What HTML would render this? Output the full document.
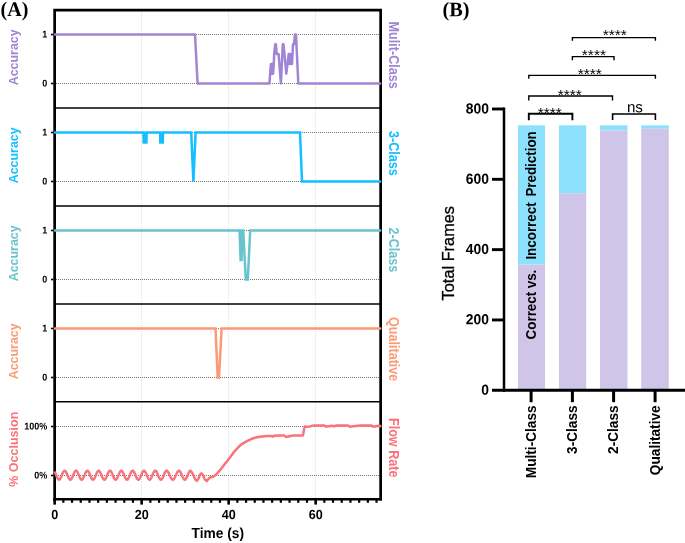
<!DOCTYPE html>
<html lang="en"><head><meta charset="utf-8"><title>Figure</title>
<style>html,body{margin:0;padding:0;background:#fff}svg{display:block}text{font-family:"Liberation Sans",Arial,sans-serif;fill:#000}.b{font-weight:bold}.tf{stroke:#000;stroke-width:0.3px}.ser{font-family:"Liberation Serif","Times New Roman",serif;font-weight:bold}</style></head><body>
<svg width="685" height="543" viewBox="0 0 685 543">
<rect width="685" height="543" fill="#fff"/>
<line x1="141.5" y1="11" x2="141.5" y2="498" stroke="#e0e0e0" stroke-width="1" stroke-dasharray="1 1"/>
<line x1="228.5" y1="11" x2="228.5" y2="498" stroke="#e0e0e0" stroke-width="1" stroke-dasharray="1 1"/>
<line x1="315.5" y1="11" x2="315.5" y2="498" stroke="#e0e0e0" stroke-width="1" stroke-dasharray="1 1"/>
<line x1="56" y1="34.5" x2="380" y2="34.5" stroke="#747474" stroke-width="1" stroke-dasharray="1 1"/>
<line x1="56" y1="83.5" x2="380" y2="83.5" stroke="#747474" stroke-width="1" stroke-dasharray="1 1"/>
<line x1="56" y1="132.5" x2="380" y2="132.5" stroke="#747474" stroke-width="1" stroke-dasharray="1 1"/>
<line x1="56" y1="181.5" x2="380" y2="181.5" stroke="#747474" stroke-width="1" stroke-dasharray="1 1"/>
<line x1="56" y1="230.5" x2="380" y2="230.5" stroke="#747474" stroke-width="1" stroke-dasharray="1 1"/>
<line x1="56" y1="279.5" x2="380" y2="279.5" stroke="#747474" stroke-width="1" stroke-dasharray="1 1"/>
<line x1="56" y1="328.5" x2="380" y2="328.5" stroke="#747474" stroke-width="1" stroke-dasharray="1 1"/>
<line x1="56" y1="377.5" x2="380" y2="377.5" stroke="#747474" stroke-width="1" stroke-dasharray="1 1"/>
<line x1="56" y1="426.5" x2="380" y2="426.5" stroke="#747474" stroke-width="1" stroke-dasharray="1 1"/>
<line x1="56" y1="475.5" x2="380" y2="475.5" stroke="#747474" stroke-width="1" stroke-dasharray="1 1"/>
<line x1="55" y1="108" x2="381" y2="108" stroke="#000" stroke-width="1.6"/>
<line x1="55" y1="206" x2="381" y2="206" stroke="#000" stroke-width="1.6"/>
<line x1="55" y1="304" x2="381" y2="304" stroke="#000" stroke-width="1.6"/>
<line x1="55" y1="401.7" x2="381" y2="401.7" stroke="#000" stroke-width="1.6"/>
<path d="M54.65,500.4 L54.65,10.05 L380.65,10.05 L380.65,500.4" fill="none" stroke="#000" stroke-width="2.7" stroke-linejoin="miter"/>
<line x1="53.3" y1="499.2" x2="382" y2="499.2" stroke="#000" stroke-width="2.5"/>
<path d="M55.0,34.5 L195.0,34.5 L197.6,83.5 L269.4,83.5 L270.2,73.7 L270.9,63.9 L271.7,73.7 L272.4,63.9 L273.1,73.7 L273.8,63.9 L274.2,54.1 L275.2,44.3 L275.9,44.3 L276.7,54.1 L278.6,54.1 L280.9,83.5 L282.8,44.3 L283.5,44.3 L286.3,73.7 L288.7,54.1 L289.4,63.9 L290.1,54.1 L290.8,63.9 L291.5,54.1 L292.0,63.9 L292.5,54.1 L293.0,44.3 L294.0,44.3 L295.0,34.5 L296.0,34.5 L298.3,83.5 L380.2,83.5" fill="none" stroke="#A085D4" stroke-width="2.5" stroke-linejoin="round" stroke-miterlimit="3" stroke-linecap="round"/>
<path d="M55.0,132.5 L143.6,132.5 L143.8,142.3 L146.2,142.3 L146.4,132.5 L160.2,132.5 L160.4,142.3 L162.8,142.3 L163.0,132.5 L191.2,132.5 L193.4,181.5 L195.6,132.5 L300.0,132.5 L302.0,181.5 L380.2,181.5" fill="none" stroke="#14BEFF" stroke-width="2.5" stroke-linejoin="miter" stroke-miterlimit="3" stroke-linecap="round"/>
<rect x="142.6" y="132.5" width="4.8" height="11" fill="#14BEFF"/>
<rect x="159.2" y="132.5" width="4.8" height="11" fill="#14BEFF"/>
<path d="M55.0,230.5 L239.6,230.5 L240.6,259.9 L241.6,259.9 L242.0,230.5 L243.2,230.5 L245.8,279.5 L247.8,279.5 L250.2,230.5 L380.2,230.5" fill="none" stroke="#69C3CD" stroke-width="2.5" stroke-linejoin="miter" stroke-miterlimit="3" stroke-linecap="round"/>
<path d="M55.0,328.5 L215.5,328.5 L217.7,377.5 L219.0,377.5 L221.6,328.5 L380.2,328.5" fill="none" stroke="#FA9B76" stroke-width="2.5" stroke-linejoin="miter" stroke-miterlimit="3" stroke-linecap="round"/>
<path d="M55.0,472.5 L55.5,473.6 L56.0,474.8 L56.5,476.0 L57.0,477.2 L57.5,478.2 L58.0,479.0 L58.5,479.5 L59.0,479.7 L59.5,479.5 L60.0,479.0 L60.5,478.2 L61.0,477.2 L61.5,476.0 L62.0,474.8 L62.5,473.6 L63.0,472.5 L63.5,471.6 L64.0,471.0 L64.5,470.7 L65.0,470.8 L65.5,471.2 L66.0,471.9 L66.5,472.8 L67.0,474.0 L67.5,475.2 L68.0,476.4 L68.5,477.6 L69.0,478.5 L69.5,479.2 L70.0,479.6 L70.5,479.7 L71.0,479.4 L71.5,478.8 L72.0,477.9 L72.5,476.8 L73.0,475.6 L73.5,474.4 L74.0,473.2 L74.5,472.2 L75.0,471.4 L75.5,470.9 L76.0,470.7 L76.5,470.9 L77.0,471.4 L77.5,472.2 L78.0,473.2 L78.5,474.4 L79.0,475.6 L79.5,476.8 L80.0,477.9 L80.5,478.8 L81.0,479.4 L81.5,479.7 L82.0,479.6 L82.5,479.2 L83.0,478.5 L83.5,477.5 L84.0,476.4 L84.5,475.2 L85.0,473.9 L85.5,472.8 L86.0,471.9 L86.5,471.2 L87.0,470.8 L87.5,470.7 L88.0,471.0 L88.5,471.6 L89.0,472.5 L89.5,473.6 L90.0,474.8 L90.5,476.1 L91.0,477.2 L91.5,478.3 L92.0,479.0 L92.5,479.5 L93.0,479.7 L93.5,479.5 L94.0,479.0 L94.5,478.2 L95.0,477.2 L95.5,476.0 L96.0,474.7 L96.5,473.5 L97.0,472.5 L97.5,471.6 L98.0,471.0 L98.5,470.7 L99.0,470.8 L99.5,471.2 L100.0,471.9 L100.5,472.9 L101.0,474.0 L101.5,475.3 L102.0,476.5 L102.5,477.6 L103.0,478.6 L103.5,479.3 L104.0,479.6 L104.5,479.7 L105.0,479.4 L105.5,478.8 L106.0,477.9 L106.5,476.8 L107.0,475.6 L107.5,474.3 L108.0,473.1 L108.5,472.1 L109.0,471.3 L109.5,470.9 L110.0,470.7 L110.5,470.9 L111.0,471.4 L111.5,472.2 L112.0,473.3 L112.5,474.4 L113.0,475.7 L113.5,476.9 L114.0,478.0 L114.5,478.8 L115.0,479.4 L115.5,479.7 L116.0,479.6 L116.5,479.2 L117.0,478.5 L117.5,477.5 L118.0,476.4 L118.5,475.1 L119.0,473.9 L119.5,472.8 L120.0,471.8 L120.5,471.1 L121.0,470.8 L121.5,470.7 L122.0,471.0 L122.5,471.7 L123.0,472.6 L123.5,473.7 L124.0,474.9 L124.5,476.1 L125.0,477.3 L125.5,478.3 L126.0,479.1 L126.5,479.6 L127.0,479.7 L127.5,479.5 L128.0,479.0 L128.5,478.2 L129.0,477.1 L129.5,475.9 L130.0,474.7 L130.5,473.5 L131.0,472.4 L131.5,471.5 L132.0,471.0 L132.5,470.7 L133.0,470.8 L133.5,471.2 L134.0,471.9 L134.5,472.9 L135.0,474.1 L135.5,475.3 L136.0,476.5 L136.5,477.7 L137.0,478.6 L137.5,479.3 L138.0,479.6 L138.5,479.7 L139.0,479.4 L139.5,478.7 L140.0,477.8 L140.5,476.7 L141.0,475.5 L141.5,474.3 L142.0,473.1 L142.5,472.1 L143.0,471.3 L143.5,470.8 L144.0,470.7 L144.5,470.9 L145.0,471.4 L145.5,472.3 L146.0,473.3 L146.5,474.5 L147.0,475.7 L147.5,476.9 L148.0,478.0 L148.5,478.9 L149.0,479.4 L149.5,479.7 L150.0,479.6 L150.5,479.2 L151.0,478.4 L151.5,477.4 L152.0,476.3 L152.5,475.1 L153.0,473.8 L153.5,472.7 L154.0,471.8 L154.5,471.1 L155.0,470.8 L155.5,470.7 L156.0,471.1 L156.5,471.7 L157.0,472.6 L157.5,473.7 L158.0,474.9 L158.5,476.2 L159.0,477.3 L159.5,478.3 L160.0,479.1 L160.5,479.6 L161.0,479.7 L161.5,479.5 L162.0,478.9 L162.5,478.1 L163.0,477.1 L163.5,475.9 L164.0,474.6 L164.5,473.4 L165.0,472.4 L165.5,471.5 L166.0,470.9 L166.5,470.7 L167.0,470.8 L167.5,471.2 L168.0,471.8 L168.5,472.6 L169.0,473.6 L169.5,474.7 L170.0,475.9 L170.5,477.0 L171.0,478.0 L171.5,478.8 L172.0,479.3 L172.5,479.6 L173.0,479.7 L173.5,479.4 L174.0,478.9 L174.5,478.1 L175.0,477.2 L175.5,476.1 L176.0,475.0 L176.5,473.9 L177.0,472.8 L177.5,471.9 L178.0,471.3 L178.5,470.8 L179.0,470.7 L179.5,470.9 L180.0,471.3 L180.5,472.1 L181.0,473.1 L181.5,474.2 L182.0,475.4 L182.5,476.6 L183.0,477.7 L183.5,478.6 L184.0,479.3 L184.5,479.6 L185.0,479.7 L185.5,479.4 L186.0,478.8 L186.5,477.9 L187.0,476.9 L187.5,475.7 L188.0,474.5 L188.5,473.3 L189.0,472.3 L189.5,471.5 L190.0,470.9 L190.5,470.7 L190.6,470.7 L192.6,473.5 L195.2,479.3 L196.8,480.8 L198.3,479.0 L200.1,474.5 L201.4,473.4 L202.8,474.8 L204.9,479.5 L206.8,481.0 L208.4,479.0 L210.4,477.2 L212.2,476.9 L214.0,476.3 L217.0,473.6 L220.0,470.2 L224.0,465.0 L228.0,460.0 L231.0,456.0 L234.0,452.0 L237.0,448.6 L240.0,445.6 L243.0,443.3 L246.0,441.6 L250.0,439.6 L254.0,438.0 L258.0,437.0 L262.0,436.4 L267.0,436.1 L272.0,436.0 L273.0,436.6 L274.0,435.8 L280.0,435.6 L284.5,435.6 L286.0,436.9 L287.5,436.8 L290.0,436.0 L294.0,435.6 L298.0,435.5 L303.0,435.4 L303.8,431.0 L304.6,426.6 L307.0,426.8 L310.0,426.4 L313.0,425.6 L318.0,425.4 L324.0,425.4 L326.0,426.6 L329.0,426.2 L332.0,425.8 L334.0,426.3 L336.0,425.6 L342.0,425.4 L348.0,425.4 L350.0,426.8 L353.0,426.2 L356.0,425.9 L360.0,425.6 L365.0,425.4 L371.0,425.4 L373.0,426.6 L375.0,426.4 L377.0,426.0 L379.0,425.7 L380.4,426.2" fill="none" stroke="#FA737A" stroke-width="2.5" stroke-linejoin="round" stroke-miterlimit="3" stroke-linecap="round"/>
<line x1="51" y1="34.5" x2="53.5" y2="34.5" stroke="#000" stroke-width="1.6"/>
<text class="b" transform="translate(47.3,37.6) rotate(0.03) scale(0.92,1)" font-size="9.8" text-anchor="end">1</text>
<line x1="51" y1="83.5" x2="53.5" y2="83.5" stroke="#000" stroke-width="1.6"/>
<text class="b" transform="translate(47.3,86.6) rotate(0.03) scale(0.92,1)" font-size="9.8" text-anchor="end">0</text>
<line x1="51" y1="132.5" x2="53.5" y2="132.5" stroke="#000" stroke-width="1.6"/>
<text class="b" transform="translate(47.3,135.6) rotate(0.03) scale(0.92,1)" font-size="9.8" text-anchor="end">1</text>
<line x1="51" y1="181.5" x2="53.5" y2="181.5" stroke="#000" stroke-width="1.6"/>
<text class="b" transform="translate(47.3,184.6) rotate(0.03) scale(0.92,1)" font-size="9.8" text-anchor="end">0</text>
<line x1="51" y1="230.5" x2="53.5" y2="230.5" stroke="#000" stroke-width="1.6"/>
<text class="b" transform="translate(47.3,233.6) rotate(0.03) scale(0.92,1)" font-size="9.8" text-anchor="end">1</text>
<line x1="51" y1="279.5" x2="53.5" y2="279.5" stroke="#000" stroke-width="1.6"/>
<text class="b" transform="translate(47.3,282.6) rotate(0.03) scale(0.92,1)" font-size="9.8" text-anchor="end">0</text>
<line x1="51" y1="328.5" x2="53.5" y2="328.5" stroke="#000" stroke-width="1.6"/>
<text class="b" transform="translate(47.3,331.6) rotate(0.03) scale(0.92,1)" font-size="9.8" text-anchor="end">1</text>
<line x1="51" y1="377.5" x2="53.5" y2="377.5" stroke="#000" stroke-width="1.6"/>
<text class="b" transform="translate(47.3,380.6) rotate(0.03) scale(0.92,1)" font-size="9.8" text-anchor="end">0</text>
<line x1="51" y1="426.5" x2="53.5" y2="426.5" stroke="#000" stroke-width="1.6"/>
<text class="b" transform="translate(47.3,429.6) rotate(0.03) scale(0.92,1)" font-size="9.8" text-anchor="end">100%</text>
<line x1="51" y1="475.5" x2="53.5" y2="475.5" stroke="#000" stroke-width="1.6"/>
<text class="b" transform="translate(47.3,478.6) rotate(0.03) scale(0.92,1)" font-size="9.8" text-anchor="end">0%</text>
<line x1="54.65" y1="499" x2="54.65" y2="504.6" stroke="#000" stroke-width="2.6"/>
<line x1="63.35" y1="499" x2="63.35" y2="502.8" stroke="#000" stroke-width="2.2"/>
<line x1="72.05" y1="499" x2="72.05" y2="502.8" stroke="#000" stroke-width="2.2"/>
<line x1="80.75" y1="499" x2="80.75" y2="502.8" stroke="#000" stroke-width="2.2"/>
<line x1="89.45" y1="499" x2="89.45" y2="502.8" stroke="#000" stroke-width="2.2"/>
<line x1="98.15" y1="499" x2="98.15" y2="502.8" stroke="#000" stroke-width="2.2"/>
<line x1="106.85" y1="499" x2="106.85" y2="502.8" stroke="#000" stroke-width="2.2"/>
<line x1="115.55" y1="499" x2="115.55" y2="502.8" stroke="#000" stroke-width="2.2"/>
<line x1="124.25" y1="499" x2="124.25" y2="502.8" stroke="#000" stroke-width="2.2"/>
<line x1="132.95" y1="499" x2="132.95" y2="502.8" stroke="#000" stroke-width="2.2"/>
<line x1="141.65" y1="499" x2="141.65" y2="504.6" stroke="#000" stroke-width="2.6"/>
<line x1="150.35" y1="499" x2="150.35" y2="502.8" stroke="#000" stroke-width="2.2"/>
<line x1="159.05" y1="499" x2="159.05" y2="502.8" stroke="#000" stroke-width="2.2"/>
<line x1="167.75" y1="499" x2="167.75" y2="502.8" stroke="#000" stroke-width="2.2"/>
<line x1="176.45" y1="499" x2="176.45" y2="502.8" stroke="#000" stroke-width="2.2"/>
<line x1="185.15" y1="499" x2="185.15" y2="502.8" stroke="#000" stroke-width="2.2"/>
<line x1="193.85" y1="499" x2="193.85" y2="502.8" stroke="#000" stroke-width="2.2"/>
<line x1="202.55" y1="499" x2="202.55" y2="502.8" stroke="#000" stroke-width="2.2"/>
<line x1="211.25" y1="499" x2="211.25" y2="502.8" stroke="#000" stroke-width="2.2"/>
<line x1="219.95" y1="499" x2="219.95" y2="502.8" stroke="#000" stroke-width="2.2"/>
<line x1="228.65" y1="499" x2="228.65" y2="504.6" stroke="#000" stroke-width="2.6"/>
<line x1="237.35" y1="499" x2="237.35" y2="502.8" stroke="#000" stroke-width="2.2"/>
<line x1="246.05" y1="499" x2="246.05" y2="502.8" stroke="#000" stroke-width="2.2"/>
<line x1="254.75" y1="499" x2="254.75" y2="502.8" stroke="#000" stroke-width="2.2"/>
<line x1="263.45" y1="499" x2="263.45" y2="502.8" stroke="#000" stroke-width="2.2"/>
<line x1="272.15" y1="499" x2="272.15" y2="502.8" stroke="#000" stroke-width="2.2"/>
<line x1="280.85" y1="499" x2="280.85" y2="502.8" stroke="#000" stroke-width="2.2"/>
<line x1="289.55" y1="499" x2="289.55" y2="502.8" stroke="#000" stroke-width="2.2"/>
<line x1="298.25" y1="499" x2="298.25" y2="502.8" stroke="#000" stroke-width="2.2"/>
<line x1="306.95" y1="499" x2="306.95" y2="502.8" stroke="#000" stroke-width="2.2"/>
<line x1="315.65" y1="499" x2="315.65" y2="504.6" stroke="#000" stroke-width="2.6"/>
<line x1="324.35" y1="499" x2="324.35" y2="502.8" stroke="#000" stroke-width="2.2"/>
<line x1="333.05" y1="499" x2="333.05" y2="502.8" stroke="#000" stroke-width="2.2"/>
<line x1="341.75" y1="499" x2="341.75" y2="502.8" stroke="#000" stroke-width="2.2"/>
<line x1="350.45" y1="499" x2="350.45" y2="502.8" stroke="#000" stroke-width="2.2"/>
<line x1="359.15" y1="499" x2="359.15" y2="502.8" stroke="#000" stroke-width="2.2"/>
<line x1="367.85" y1="499" x2="367.85" y2="502.8" stroke="#000" stroke-width="2.2"/>
<line x1="376.55" y1="499" x2="376.55" y2="502.8" stroke="#000" stroke-width="2.2"/>
<text class="b" transform="translate(54.7,519.0) rotate(0.03) scale(0.955,1)" font-size="13.2" text-anchor="middle">0</text>
<text class="b" transform="translate(141.7,519.0) rotate(0.03) scale(0.955,1)" font-size="13.2" text-anchor="middle">20</text>
<text class="b" transform="translate(228.7,519.0) rotate(0.03) scale(0.955,1)" font-size="13.2" text-anchor="middle">40</text>
<text class="b" transform="translate(315.7,519.0) rotate(0.03) scale(0.955,1)" font-size="13.2" text-anchor="middle">60</text>
<text class="b" transform="translate(217.8,538.1) rotate(0.03) scale(0.943,1)" font-size="14.6" text-anchor="middle">Time (s)</text>
<text class="b" transform="translate(18.2,57.3) rotate(-90) scale(0.958,1)" font-size="13.0" text-anchor="middle" style="fill:#A085D4">Accuracy</text>
<text class="b" transform="translate(18.2,155.3) rotate(-90) scale(0.958,1)" font-size="13.0" text-anchor="middle" style="fill:#14BEFF">Accuracy</text>
<text class="b" transform="translate(18.2,253.3) rotate(-90) scale(0.958,1)" font-size="13.0" text-anchor="middle" style="fill:#69C3CD">Accuracy</text>
<text class="b" transform="translate(18.2,351.3) rotate(-90) scale(0.958,1)" font-size="13.0" text-anchor="middle" style="fill:#FA9B76">Accuracy</text>
<text class="b" transform="translate(17.8,449.2) rotate(-90) scale(0.962,1)" font-size="13.0" text-anchor="middle" style="fill:#FA737A">% Occlusion</text>
<text class="b" transform="translate(389.4,21.6) rotate(90) scale(0.9,1)" font-size="14.0" text-anchor="start" style="fill:#A085D4">Mulit-Class</text>
<text class="b" transform="translate(389.4,131) rotate(90) scale(0.9,1)" font-size="14.0" text-anchor="start" style="fill:#14BEFF">3-Class</text>
<text class="b" transform="translate(389.4,227.6) rotate(90) scale(0.9,1)" font-size="14.0" text-anchor="start" style="fill:#69C3CD">2-Class</text>
<text class="b" transform="translate(389.4,317) rotate(90) scale(0.9,1)" font-size="14.0" text-anchor="start" style="fill:#FA9B76">Qualitative</text>
<text class="b" transform="translate(389.4,418) rotate(90) scale(0.9,1)" font-size="14.0" text-anchor="start" style="fill:#FA737A">Flow Rate</text>
<text class="ser" transform="translate(0.6,15.9) rotate(0.03) scale(0.97,1)" font-size="20.7" text-anchor="start">(A)</text>
<text class="ser" transform="translate(442.6,16.35) rotate(0.03) scale(0.99,1)" font-size="20.5" text-anchor="start">(B)</text>
<rect x="518" y="125.3" width="27.0" height="139.3" fill="#8EE1FC"/>
<rect x="518" y="264.6" width="27.0" height="125.7" fill="#CFC5E8"/>
<rect x="559" y="125.3" width="27.2" height="68.0" fill="#8EE1FC"/>
<rect x="559" y="193.3" width="27.2" height="197.0" fill="#CFC5E8"/>
<rect x="600" y="125.3" width="27.5" height="5.2" fill="#8EE1FC"/>
<rect x="600" y="130.5" width="27.5" height="259.8" fill="#CFC5E8"/>
<rect x="641.2" y="125.3" width="27.6" height="3.4" fill="#8EE1FC"/>
<rect x="641.2" y="128.7" width="27.6" height="261.6" fill="#CFC5E8"/>
<line x1="504" y1="107.5" x2="504" y2="391.77" stroke="#000" stroke-width="2.5"/>
<line x1="492" y1="390.27" x2="685" y2="390.27" stroke="#000" stroke-width="3.0"/>
<line x1="492" y1="319.95" x2="504" y2="319.95" stroke="#000" stroke-width="2.9"/>
<line x1="492" y1="249.63" x2="504" y2="249.63" stroke="#000" stroke-width="2.9"/>
<line x1="492" y1="179.31" x2="504" y2="179.31" stroke="#000" stroke-width="2.9"/>
<line x1="492" y1="108.99" x2="504" y2="108.99" stroke="#000" stroke-width="2.9"/>
<text class="b" transform="translate(488.9,394.7) rotate(0.03) scale(0.95,1)" font-size="14.6" text-anchor="end">0</text>
<text class="b" transform="translate(488.9,324.3) rotate(0.03) scale(0.95,1)" font-size="14.6" text-anchor="end">200</text>
<text class="b" transform="translate(488.9,254.0) rotate(0.03) scale(0.95,1)" font-size="14.6" text-anchor="end">400</text>
<text class="b" transform="translate(488.9,183.7) rotate(0.03) scale(0.95,1)" font-size="14.6" text-anchor="end">600</text>
<text class="b" transform="translate(488.9,113.4) rotate(0.03) scale(0.95,1)" font-size="14.6" text-anchor="end">800</text>
<line x1="531.1" y1="390.27" x2="531.1" y2="402.2" stroke="#000" stroke-width="3.0"/>
<text class="b" transform="translate(535.7,405.4) rotate(-90) scale(0.91,1)" font-size="15.0" text-anchor="end" style="fill:#000">Multi-Class</text>
<line x1="572.4" y1="390.27" x2="572.4" y2="402.2" stroke="#000" stroke-width="3.0"/>
<text class="b" transform="translate(577.0,405.4) rotate(-90) scale(0.91,1)" font-size="15.0" text-anchor="end" style="fill:#000">3-Class</text>
<line x1="613.6" y1="390.27" x2="613.6" y2="402.2" stroke="#000" stroke-width="3.0"/>
<text class="b" transform="translate(618.2,405.4) rotate(-90) scale(0.91,1)" font-size="15.0" text-anchor="end" style="fill:#000">2-Class</text>
<line x1="655.1" y1="390.27" x2="655.1" y2="402.2" stroke="#000" stroke-width="3.0"/>
<text class="b" transform="translate(659.7,405.4) rotate(-90) scale(0.91,1)" font-size="15.0" text-anchor="end" style="fill:#000">Qualitative</text>
<text class="tf" transform="translate(454.4,300.4) rotate(-90) scale(0.95,1)" font-size="17.2" text-anchor="start" style="fill:#000">Total Frames</text>
<text class="b" transform="translate(536.2,339.4) rotate(-90) scale(0.892,1)" font-size="15.0" text-anchor="start" style="fill:#000">Correct</text>
<text class="b" transform="translate(536.2,288.3) rotate(-90) scale(0.892,1)" font-size="15.0" text-anchor="start" style="fill:#000">vs.</text>
<text class="b" transform="translate(536.2,259.6) rotate(-90) scale(0.892,1)" font-size="15.0" text-anchor="start" style="fill:#000">Incorrect</text>
<text class="b" transform="translate(536.2,196.6) rotate(-90) scale(0.892,1)" font-size="15.0" text-anchor="start" style="fill:#000">Prediction</text>
<path d="M528.8,120.2 L528.8,113.7 L572.4,113.7 L572.4,120.2" fill="none" stroke="#000" stroke-width="1.9"/>
<path d="M528.8,100.6 L528.8,96 L612.5,96 L612.5,100.6" fill="none" stroke="#000" stroke-width="1.4"/>
<path d="M528.8,78.8 L528.8,75.4 L655.4,75.4 L655.4,78.8" fill="none" stroke="#000" stroke-width="1.4"/>
<path d="M572.4,60.2 L572.4,56.6 L614,56.6 L614,60.2" fill="none" stroke="#000" stroke-width="1.4"/>
<path d="M572.4,40.8 L572.4,37.6 L655.4,37.6 L655.4,40.8" fill="none" stroke="#000" stroke-width="1.4"/>
<path d="M612.6,120.0 L612.6,114.0 L655.4,114.0 L655.4,120.0" fill="none" stroke="#000" stroke-width="1.6"/>
<text x="549.8" y="118" font-size="15.5" text-anchor="middle">****</text>
<text x="569.8" y="100" font-size="15.5" text-anchor="middle">****</text>
<text x="589.8" y="79" font-size="15.5" text-anchor="middle">****</text>
<text x="593.9" y="60" font-size="15.5" text-anchor="middle">****</text>
<text x="614.7" y="40" font-size="15.5" text-anchor="middle">****</text>
<text transform="translate(634.9,112.3) rotate(0.03)" font-size="15.2" text-anchor="middle">ns</text>
</svg></body></html>
